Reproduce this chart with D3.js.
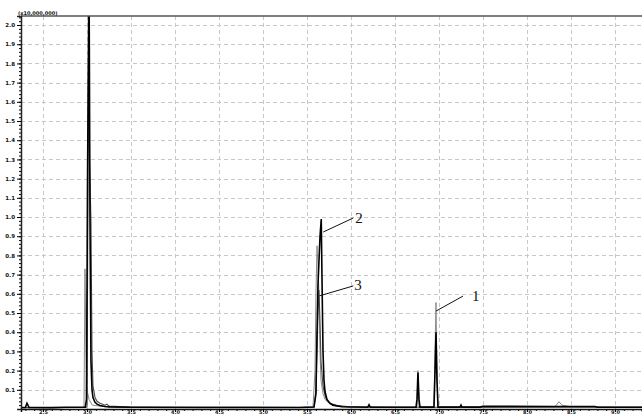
<!DOCTYPE html>
<html><head><meta charset="utf-8">
<script src="https://cdn.jsdelivr.net/npm/d3@7"></script>
<style>
html,body{margin:0;padding:0;background:#fff;}
svg{display:block;}
</style></head>
<body>
<svg id="chart" width="642" height="414"></svg>
<script>
// ---- data (retention time in min, intensity x10,000,000) ----
const xTicks = [2.5,3.0,3.5,4.0,4.5,5.0,5.5,6.0,6.5,7.0,7.5,8.0,8.5,9.0];
const yTicks = [0.1,0.2,0.3,0.4,0.5,0.6,0.7,0.8,0.9,1.0,1.1,1.2,1.3,1.4,1.5,1.6,1.7,1.8,1.9,2.0];
const unitLabel = "(x10,000,000)";

const traceA = [ // black
 [2.25,0.008],[2.30,0.008],[2.318,0.03],[2.341,0.008],[2.60,0.007],[2.75,0.009],[2.98,0.009],
 [2.994,0.05],[3.006,1.2],[3.023,2.3],[3.034,1.0],[3.045,0.25],[3.057,0.1],[3.068,0.06],
 [3.091,0.035],[3.114,0.025],[3.148,0.018],[3.205,0.013],[3.261,0.011],[3.489,0.009],
 [4.284,0.008],[5.42,0.008],[5.58,0.01],[5.602,0.08],[5.614,0.4],[5.625,0.65],[5.648,0.9],
 [5.662,0.99],[5.670,0.7],[5.682,0.3],[5.693,0.15],[5.705,0.09],[5.727,0.05],[5.761,0.03],
 [5.795,0.02],[5.898,0.012],[6.19,0.009],[6.205,0.022],[6.22,0.009],[6.739,0.01],[6.75,0.05],
 [6.761,0.19],[6.773,0.05],[6.784,0.01],[6.943,0.01],[6.955,0.2],[6.966,0.4],[6.977,0.15],
 [6.989,0.01],[7.239,0.01],[7.25,0.02],[7.26,0.01],[7.466,0.01],[7.5,0.014],[8.3,0.013],
 [8.773,0.013],[8.8,0.009],[9.307,0.009]
];
const traceB = [ // dark grey
 [2.25,0.007],[2.98,0.008],[3.0,0.01],[3.011,1.2],[3.017,1.77],[3.028,1.3],[3.045,0.98],
 [3.057,0.3],[3.068,0.12],[3.091,0.06],[3.114,0.04],[3.148,0.03],[3.205,0.02],[3.227,0.025],
 [3.25,0.015],[3.489,0.01],[5.42,0.008],[5.58,0.01],[5.602,0.1],[5.625,0.5],[5.636,0.62],
 [5.648,0.45],[5.659,0.25],[5.682,0.12],[5.705,0.07],[5.727,0.045],[5.761,0.03],[5.841,0.018],
 [5.989,0.011],[6.5,0.009],[9.307,0.009]
];
const traceC = [ // light grey
 [2.25,0.007],[2.955,0.008],[2.966,0.01],[2.977,0.73],[2.989,0.3],[3.0,0.1],[3.023,0.05],
 [3.06,0.02],[3.2,0.012],[3.4,0.009],[5.557,0.009],[5.568,0.01],[5.591,0.2],[5.602,0.6],
 [5.614,0.85],[5.625,0.75],[5.636,0.6],[5.648,0.3],[5.659,0.15],[5.682,0.08],[5.705,0.05],
 [5.761,0.025],[5.841,0.014],[5.989,0.01],[6.75,0.01],[6.761,0.2],[6.773,0.01],[6.943,0.01],
 [6.955,0.3],[6.966,0.555],[6.977,0.2],[6.989,0.01],[8.318,0.012],[8.364,0.038],[8.398,0.02],
 [8.443,0.016],[8.489,0.012],[9.307,0.009]
];
const peakLabels = ["2","3","1"];
const peakTimes  = [5.685,5.640,6.966];
const peakValues = [0.922,0.589,0.51];

// ---- layout ----
const svg = d3.select("#chart");
const L = 21, R = 642, T = 16, B = 409;
const x = d3.scaleLinear().domain([2.25, 9.307]).range([L, R]);
const y = d3.scaleLinear().domain([0, 2.047]).range([B, T]);

// grid
const grid = svg.append("g").attr("stroke","#c8c8c8").attr("stroke-dasharray","4,3").attr("stroke-width",1);
grid.selectAll("line.h").data(yTicks).join("line")
  .attr("x1",L).attr("x2",R).attr("y1",d=>Math.round(y(d))+0.5).attr("y2",d=>Math.round(y(d))+0.5);
grid.selectAll("line.v").data(xTicks).join("line")
  .attr("y1",T).attr("y2",B).attr("x1",d=>Math.round(x(d))+0.5).attr("x2",d=>Math.round(x(d))+0.5);

// traces
svg.append("clipPath").attr("id","clip").append("rect").attr("x",L).attr("y",T).attr("width",R-L).attr("height",B-T);
const line = d3.line().x(d=>x(d[0])).y(d=>y(d[1]));
const g = svg.append("g").attr("clip-path","url(#clip)").attr("fill","none");
g.append("path").datum(traceC).attr("d",line).attr("stroke","#8a8a8a").attr("stroke-width",1);
g.append("path").datum(traceB).attr("d",line).attr("stroke","#4a4a4a").attr("stroke-width",1.1);
g.append("path").datum(traceA).attr("d",line).attr("stroke","#000").attr("stroke-width",1.6);

// top border
svg.append("line").attr("x1",L).attr("x2",R).attr("y1",T).attr("y2",T).attr("stroke","#555").attr("stroke-width",1.5);

// y axis
const yMinor = d3.range(0, 2.041, 0.02);
const yAxisG = svg.append("g").attr("transform",`translate(${L},0)`);
yAxisG.call(d3.axisLeft(y).tickValues(yMinor).tickSize(2).tickFormat(""));
yAxisG.call(g2=>g2.select(".domain").remove());
const yMaj = svg.append("g").attr("transform",`translate(${L},0)`)
  .call(d3.axisLeft(y).tickValues(yTicks).tickSize(4).tickPadding(2).tickFormat(d3.format(".1f")));
yMaj.select(".domain").attr("stroke","#222").attr("stroke-width",1.5);
yMaj.selectAll("text").attr("font-family","DejaVu Sans, sans-serif").attr("font-size",5.5).attr("font-weight","bold").attr("fill","#111");

// x axis
const xMinor = d3.range(2.3, 9.31, 0.1);
svg.append("g").attr("transform",`translate(0,${B})`)
  .call(d3.axisBottom(x).tickValues(xMinor).tickSize(2).tickFormat(""))
  .call(g2=>g2.select(".domain").remove());
const xMaj = svg.append("g").attr("transform",`translate(0,${B})`)
  .call(d3.axisBottom(x).tickValues(xTicks).tickSize(3).tickFormat(d3.format(".1f")));
xMaj.select(".domain").attr("stroke","#111").attr("stroke-width",1.5);
xMaj.selectAll("text").attr("y",4.8).attr("dy",0)
  .attr("font-family","DejaVu Sans, sans-serif").attr("font-size",5).attr("font-weight","bold").attr("fill","#111");

// unit label
svg.append("text").attr("x",18).attr("y",T-1).text(unitLabel)
  .attr("font-family","DejaVu Sans, sans-serif").attr("font-size",5).attr("font-weight","bold").attr("fill","#111");

// peak annotations
const ann = d3.range(peakLabels.length).map(i=>({label:peakLabels[i], t:peakTimes[i], v:peakValues[i]}));
const offs = [[30,-14,32,-9],[34,-10,35,-6],[27,-15,36,-10]];
const ag = svg.append("g");
ann.forEach((a,i)=>{
  const px = x(a.t), py = y(a.v), o = offs[i];
  ag.append("line").attr("x1",px).attr("y1",py).attr("x2",px+o[0]).attr("y2",py+o[1]).attr("stroke","#111").attr("stroke-width",1);
  ag.append("text").attr("x",px+o[2]).attr("y",py+o[3]).text(a.label)
    .attr("font-family","Liberation Serif, serif").attr("font-size",15).attr("fill","#111");
});
</script>
</body></html>
